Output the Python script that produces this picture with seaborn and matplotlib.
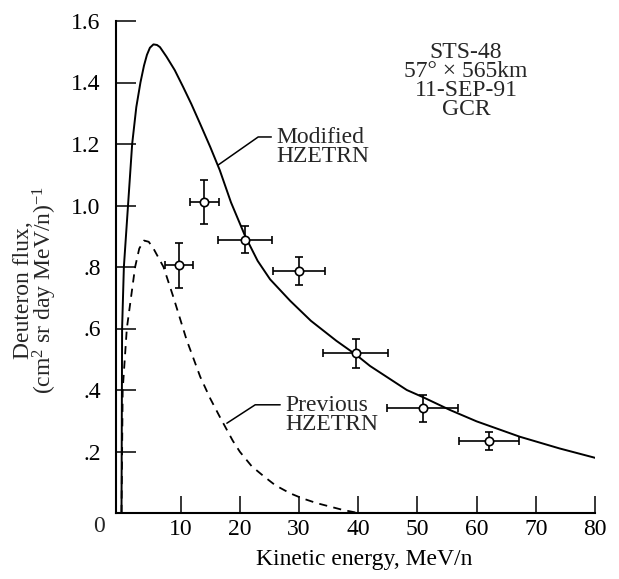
import numpy as np
import matplotlib
matplotlib.use("Agg")
import matplotlib.pyplot as plt
import seaborn as sns

# measured points (kinetic energy MeV/n, deuteron flux) with errors
energy = [9.7, 14.0, 20.9, 30.0, 39.6, 50.9, 62.1]
flux = [0.806, 1.012, 0.888, 0.788, 0.519, 0.340, 0.234]
energy_err = [2.4, 2.5, 4.6, 4.4, 5.5, 6.0, 5.1]
flux_err = [0.073, 0.072, 0.044, 0.046, 0.047, 0.043, 0.028]

# Modified HZETRN (solid)
mod_x = [0, 0.1, 0.4, 1.1, 1.8, 2.5, 3.2, 3.8, 4.3, 4.8, 5.4, 6.0, 6.5, 7.6,
         9.0, 10.4, 11.8, 13.3, 15.0, 16.6, 18.5, 20.9, 23.0, 25.1, 28.5,
         32.0, 36.3, 39.6, 42.0, 48.2, 50.9, 55.5, 60.0, 67.3, 74.0, 80.3]
mod_y = [0, 0.6, 0.8, 1.0, 1.2, 1.32, 1.40, 1.455, 1.49, 1.513, 1.524, 1.522,
         1.515, 1.484, 1.44, 1.386, 1.33, 1.265, 1.19, 1.115, 1.01, 0.90, 0.82,
         0.76, 0.69, 0.625, 0.56, 0.515, 0.478, 0.40, 0.377, 0.335, 0.298,
         0.248, 0.21, 0.178]

# Previous HZETRN (dashed)
prev_x = [0, 0.2, 0.9, 2.3, 3.0, 3.8, 4.6, 5.4, 7.1, 8.75, 11.0, 13.3, 15.0,
          16.6, 18.8, 20.0, 22.0, 24.0, 26.0, 28.5, 30.5, 33.0, 35.0, 37.4, 40.0]
prev_y = [0, 0.4, 0.6, 0.8, 0.86, 0.886, 0.882, 0.86, 0.80, 0.703, 0.563,
          0.443, 0.372, 0.313, 0.235, 0.199, 0.152, 0.120, 0.090, 0.064, 0.048,
          0.032, 0.022, 0.010, 0.0]

xticks = [10, 20, 30, 40, 50, 60, 70, 80]
yticks = [0.2, 0.4, 0.6, 0.8, 1.0, 1.2, 1.4, 1.6]
ytick_labels = [".2", ".4", ".6", ".8", "1.0", "1.2", "1.4", "1.6"]

sns.set_theme(style="ticks")
plt.rcParams['font.family'] = ['Liberation Serif', 'DejaVu Serif']
plt.rcParams['mathtext.fontset'] = 'custom'
plt.rcParams['mathtext.rm'] = 'Liberation Serif'
plt.rcParams['mathtext.default'] = 'rm'

fig = plt.figure(figsize=(6.19, 5.79), dpi=100)
ax = fig.add_axes([116 / 619, 66 / 579, 479 / 619, 492 / 579])

sns.lineplot(x=mod_x, y=mod_y, ax=ax, color="black", lw=1.4, sort=False)
sns.lineplot(x=prev_x, y=prev_y, ax=ax, color="black", lw=1.3, sort=False,
             linestyle=(0, (4.5, 3.5)))

ax.errorbar(energy, flux, xerr=energy_err, yerr=flux_err, fmt="none",
            ecolor="black", elinewidth=1.2, capsize=3, capthick=1.2, zorder=3)
sns.scatterplot(x=energy, y=flux, ax=ax, marker="o", s=36, color="white",
                edgecolor="black", linewidth=1.2, zorder=4)

ax.set_xlim(-0.93, 80)
ax.set_ylim(0, 1.6)
ax.set_xticks(xticks)
ax.set_xticklabels([str(t) for t in xticks])
ax.set_yticks(yticks)
ax.set_yticklabels(ytick_labels)
ax.tick_params(axis="both", direction="in", width=1.1, labelsize=17, colors="black")
ax.tick_params(axis="y", length=14.5, pad=11)
ax.tick_params(axis="x", length=12, pad=4)
sns.despine(ax=ax)
for s in ["left", "bottom"]:
    ax.spines[s].set_linewidth(1.5)
    ax.spines[s].set_color("black")

ax.annotate("0", xy=(0, 0), xytext=(-16, -10), textcoords="offset points",
            ha="center", va="center", fontsize=17)

ax.set_xlabel("Kinetic energy, MeV/n", fontsize=17, color="black")
ax.xaxis.set_label_coords(0.518, -0.074)
fig.text(36 / 619, 1 - 290 / 579,
         "Deuteron flux,\n(cm$^{2}$ sr day MeV/n)$^{-1}$",
         rotation=90, ha="center", va="center", multialignment="center",
         fontsize=17, linespacing=0.88)

ax.text(58.2, 1.405, "STS-48\n57° × 565km\n11-SEP-91\nGCR", ha="center",
        va="center", multialignment="center", fontsize=17, linespacing=0.87)

ax.annotate("Modified\nHZETRN", xy=(16.35, 1.132), xytext=(26.1, 1.19),
            ha="left", va="center", fontsize=17, linespacing=0.9,
            arrowprops=dict(arrowstyle="-", color="black", lw=1.1,
                            relpos=(0, 0.75), shrinkA=1, shrinkB=0,
                            connectionstyle="angle,angleA=0,angleB=35,rad=0"))
ax.annotate("Previous\nHZETRN", xy=(17.8, 0.292), xytext=(27.6, 0.319),
            ha="left", va="center", fontsize=17, linespacing=0.9,
            arrowprops=dict(arrowstyle="-", color="black", lw=1.1,
                            relpos=(0, 0.75), shrinkA=1, shrinkB=0,
                            connectionstyle="angle,angleA=0,angleB=33,rad=0"))

fig.savefig("out.png", dpi=100)
